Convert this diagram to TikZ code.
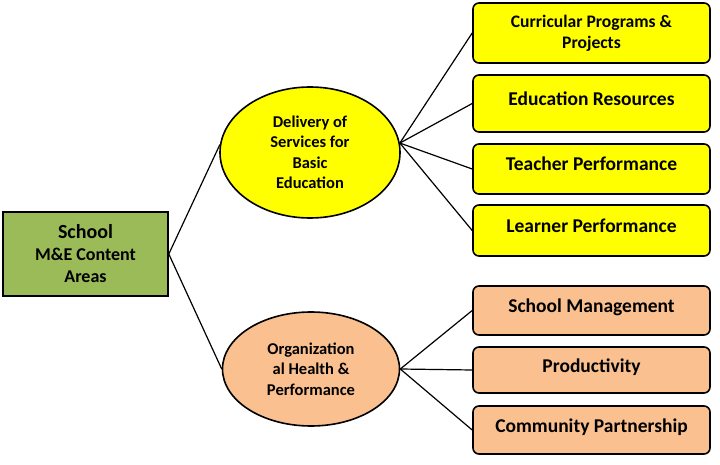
\documentclass[tikz,border=0pt]{standalone}
\usepackage{fontspec}
\setmainfont{Carlito}
\usetikzlibrary{positioning, shapes.geometric}
\definecolor{areagreen}{HTML}{9BBB59}
\definecolor{servyellow}{HTML}{FFFF00}
\definecolor{orgorange}{HTML}{FAC090}

\begin{document}
\begin{tikzpicture}[x=1pt, y=-1pt, font=\bfseries, node distance=10.4pt,
  root/.style={rectangle, draw, line width=1.6pt, minimum width=165pt, minimum height=84pt,
               align=center, inner sep=0pt, fill=areagreen,
               font=\bfseries\fontsize{18}{22}\selectfont},
  hub/.style={ellipse, draw, line width=1.6pt, align=center, inner sep=0pt,
              font=\bfseries\fontsize{16.5}{20.5}\selectfont},
  item/.style={rectangle, draw, rounded corners=6pt, line width=1.6pt, minimum width=237pt,
               align=center, inner sep=0pt, text height=14pt, text depth=10pt,
               font=\bfseries\fontsize{19.5}{21}\selectfont},
  link/.style={line width=1.2pt},
]
  \useasboundingbox (0,0) rectangle (720,465);
  \node[root] (school) at (85.5,254)
    {{\fontsize{20}{22}\selectfont School}\\M\&E Content\\Areas};
  \node[hub, fill=servyellow, minimum width=180pt, minimum height=131pt] (deliv) at (310,152.5)
    {Delivery of\\Services for\\Basic\\Education};
  \node[hub, fill=orgorange, minimum width=177pt, minimum height=114pt] (orghealth) at (311,369)
    {Organization\\al Health \&\\Performance};
  % delivery of services branch
  \node[item, fill=servyellow, minimum height=60pt, text height=, text depth=,
        font=\bfseries\fontsize{17.6}{21}\selectfont]
    (curric) at (591.5,33) {Curricular Programs \&\\Projects};
  \node[item, fill=servyellow, minimum height=57pt, below=of curric] (resources) {Education Resources};
  \node[item, fill=servyellow, minimum height=50pt, below=of resources] (teacher) {Teacher Performance};
  \node[item, fill=servyellow, minimum height=51pt, below=9.4pt of teacher] (learner) {Learner Performance};
  % organizational health branch
  \node[item, fill=orgorange, minimum height=49pt] (mgmt) at (591.5,310.5) {School Management};
  \node[item, fill=orgorange, minimum height=46pt, below=of mgmt] (product) {Productivity};
  \node[item, fill=orgorange, minimum height=48pt, below=11.4pt of product] (community) {Community Partnership};
  \draw[link] (school.east) -- (deliv.175);
  \draw[link] (school.east) -- (orghealth.west);
  \foreach \b in {curric, resources, teacher, learner}
    \draw[link] (deliv.6) -- (\b.west);
  \foreach \b in {mgmt, product, community}
    \draw[link] (orghealth.east) -- (\b.west);
\end{tikzpicture}
\end{document}
